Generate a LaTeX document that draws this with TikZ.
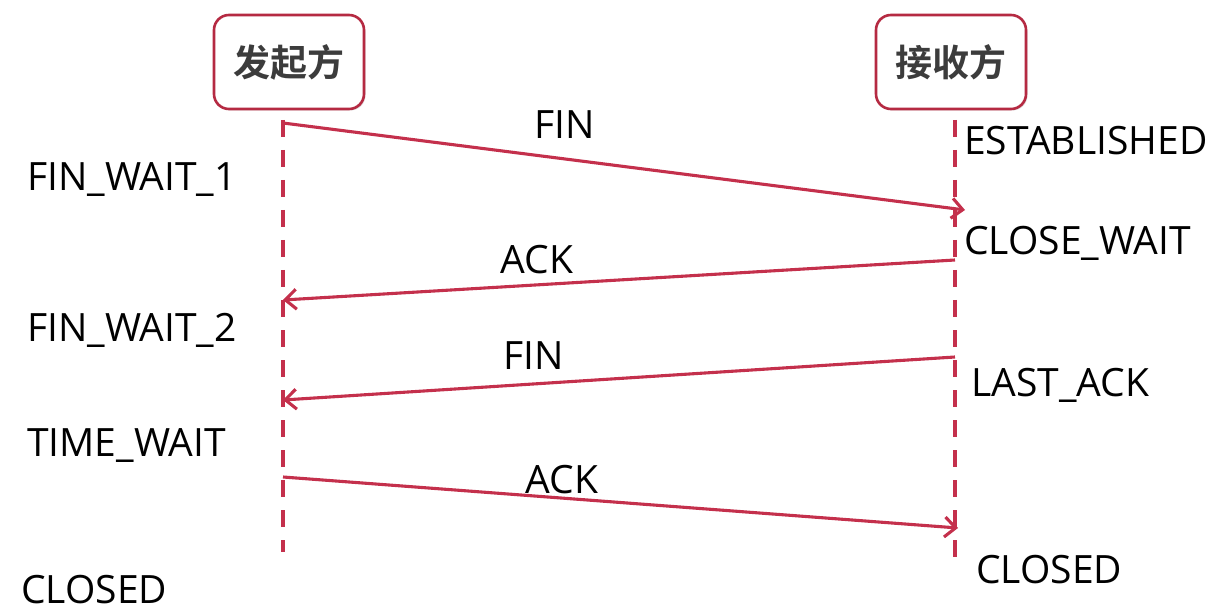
\documentclass[tikz,border=0pt]{standalone}
\usepackage{fontspec}
\setmainfont{Open Sans}
\newfontfamily\cjk{Noto Sans CJK SC}[BoldFont={* Bold}]
\usetikzlibrary{arrows.meta,shadows}
\definecolor{linered}{HTML}{C4304C}
\definecolor{boxred}{HTML}{B52A42}
\definecolor{cjkgray}{HTML}{3C3C3C}
\tikzset{
  party/.style={draw=boxred, line width=2.6pt, rounded corners=15pt, fill=white,
    minimum width=150pt, minimum height=94pt, inner sep=0pt,
    font=\cjk\bfseries\fontsize{37}{40}\selectfont, text=cjkgray,
    drop shadow={opacity=0.25, shadow xshift=1.5pt, shadow yshift=-1.5pt}},
  lifeline/.style={draw=linered, line width=3.2pt, dash pattern=on 17pt off 13pt},
  msg/.style={draw=linered, line width=3.1pt, -{Straight Barb[length=11pt,width=20pt,line width=3.1pt]}},
  state/.style={font=\fontsize{39}{42}\selectfont, text=black, inner sep=0pt, anchor=west},
  msglabel/.style={font=\fontsize{39}{42}\selectfont, text=black, inner sep=0pt},
}
\begin{document}
\begin{tikzpicture}[x=1pt,y=-1pt]
\useasboundingbox (0,0) rectangle (1218,612);
\node[party] (sender) at (289,62) {发起方};
\node[party] (receiver) at (951,62) {接收方};
% lifelines
\coordinate (s0) at (283,120); \coordinate (s1) at (283,552);
\coordinate (r0) at (955,120); \coordinate (r1) at (955,562);
\draw[lifeline] (s0) -- (s1);
\draw[lifeline] (r0) -- (r1);
% message endpoints
\coordinate (m1a) at (283,123); \coordinate (m1b) at (965,210);
\coordinate (m2a) at (955,260); \coordinate (m2b) at (283,300);
\coordinate (m3a) at (955,357); \coordinate (m3b) at (283,400);
\coordinate (m4a) at (283,477); \coordinate (m4b) at (958,528);
\draw[msg] (m1a) -- (m1b);
\draw[msg] (m2a) -- (m2b);
\draw[msg] (m3a) -- (m3b);
\draw[msg] (m4a) -- (m4b);
% message labels
\node[msglabel] (l1) at (565,125) {FIN};
\node[msglabel] (l2) at (537,260) {ACK};
\node[msglabel] (l3) at (534,356) {FIN};
\node[msglabel] (l4) at (562,480) {ACK};
% states
\node[state] (sa) at (27,180) {FIN\_WAIT\_1};
\node[state] (sb) at (27,330) {FIN\_WAIT\_2};
\node[state] (sc) at (27,446) {TIME\_WAIT};
\node[state] (sd) at (21,590) {CLOSED};
\node[state] (ra) at (964,141) {ESTABLISHED};
\node[state] (rb) at (964,243) {CLOSE\_WAIT};
\node[state] (rc) at (971,385) {LAST\_ACK};
\node[state] (rd) at (976,570) {CLOSED};
\end{tikzpicture}
\end{document}
